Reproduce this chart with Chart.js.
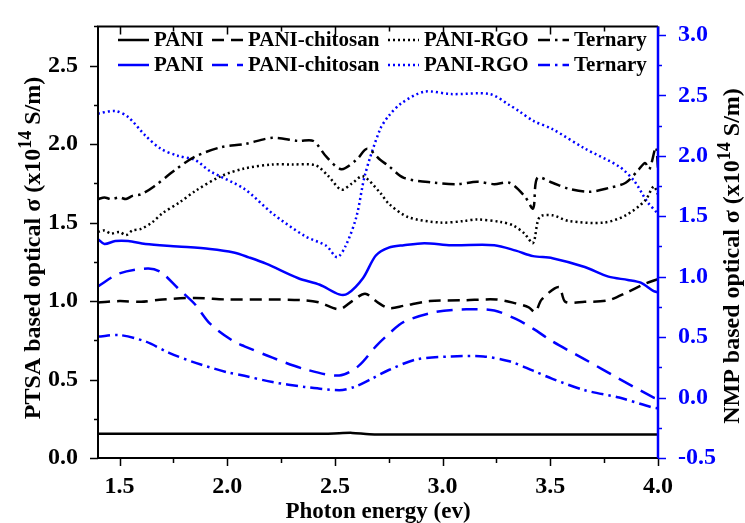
<!DOCTYPE html>
<html>
<head>
<meta charset="utf-8">
<script src="https://cdn.jsdelivr.net/npm/chart.js@4.4.1/dist/chart.umd.min.js"></script>
<style>
  html, body { margin: 0; padding: 0; background: #fff; }
  #wrap { width: 745px; height: 523px; }
</style>
</head>
<body>
<div id="wrap"><canvas id="chart" width="745" height="523"></canvas></div>
<script>
// ---- data (x = photon energy in eV) ----
const xTicks = [1.5, 2.0, 2.5, 3.0, 3.5, 4.0];
const leftTicks = [0.0, 0.5, 1.0, 1.5, 2.0, 2.5];
const rightTicks = [-0.5, 0.0, 0.5, 1.0, 1.5, 2.0, 2.5, 3.0];

// PTSA based (left axis, black)
const ptsaPaniX = [1.4, 2.45, 2.52, 2.58, 2.66, 2.8, 4.0];
const ptsaPaniY = [0.155, 0.155, 0.158, 0.16, 0.152, 0.15, 0.15];

const ptsaChitosanX = [1.4, 1.5, 1.6, 1.7, 1.85, 2.0, 2.2, 2.36, 2.43, 2.52, 2.58, 2.64, 2.7, 2.75, 2.82, 2.94, 3.1, 3.25, 3.34, 3.4, 3.43, 3.46, 3.54, 3.57, 3.66, 3.77, 3.86, 3.94, 4.0];
const ptsaChitosanY = [0.99, 1.0, 0.995, 1.01, 1.02, 1.01, 1.01, 1.005, 0.99, 0.948, 1.0, 1.047, 0.99, 0.955, 0.97, 1.0, 1.005, 1.01, 0.985, 0.96, 0.93, 1.01, 1.09, 0.995, 0.995, 1.005, 1.058, 1.11, 1.14];

const ptsaRgoX = [1.4, 1.43, 1.46, 1.5, 1.53, 1.56, 1.6, 1.65, 1.7, 1.78, 1.85, 1.97, 2.08, 2.21, 2.3, 2.41, 2.47, 2.53, 2.58, 2.63, 2.71, 2.75, 2.84, 2.99, 3.1, 3.16, 3.27, 3.33, 3.38, 3.42, 3.45, 3.51, 3.585, 3.75, 3.85, 3.94, 3.98, 4.0];
const ptsaRgoY = [1.44, 1.45, 1.43, 1.44, 1.42, 1.45, 1.46, 1.5, 1.56, 1.63, 1.7, 1.795, 1.845, 1.87, 1.87, 1.865, 1.795, 1.71, 1.75, 1.795, 1.69, 1.62, 1.535, 1.5, 1.51, 1.52, 1.504, 1.48, 1.43, 1.37, 1.535, 1.546, 1.51, 1.5, 1.546, 1.64, 1.73, 1.68];

const ptsaTernaryX = [1.4, 1.43, 1.46, 1.5, 1.53, 1.56, 1.6, 1.66, 1.76, 1.85, 1.97, 2.08, 2.21, 2.33, 2.4, 2.46, 2.53, 2.6, 2.65, 2.71, 2.75, 2.82, 2.96, 3.07, 3.16, 3.24, 3.31, 3.38, 3.42, 3.44, 3.51, 3.585, 3.68, 3.77, 3.85, 3.91, 3.94, 3.96, 3.99, 4.0];
const ptsaTernaryY = [1.65, 1.66, 1.65, 1.66, 1.65, 1.67, 1.68, 1.73, 1.837, 1.92, 1.98, 2.0, 2.04, 2.02, 2.02, 1.92, 1.84, 1.9, 1.97, 1.9, 1.86, 1.785, 1.754, 1.745, 1.76, 1.745, 1.754, 1.67, 1.59, 1.785, 1.754, 1.716, 1.696, 1.72, 1.754, 1.837, 1.88, 1.84, 1.98, 1.85];

// NMP based (right axis, blue)
const nmpPaniX = [1.4, 1.43, 1.48, 1.54, 1.62, 1.77, 1.92, 2.03, 2.1, 2.18, 2.33, 2.43, 2.52, 2.56, 2.63, 2.69, 2.75, 2.82, 2.915, 3.04, 3.24, 3.34, 3.42, 3.51, 3.66, 3.77, 3.86, 3.92, 3.98, 4.0];
const nmpPaniY = [1.31, 1.27, 1.295, 1.295, 1.27, 1.25, 1.229, 1.2, 1.16, 1.108, 0.987, 0.933, 0.853, 0.86, 0.987, 1.175, 1.24, 1.26, 1.277, 1.26, 1.26, 1.215, 1.17, 1.153, 1.08, 1.0, 0.973, 0.95, 0.88, 0.87];

const nmpChitosanX = [1.4, 1.5, 1.63, 1.69, 1.77, 1.85, 1.92, 2.03, 2.08, 2.21, 2.36, 2.52, 2.61, 2.69, 2.74, 2.82, 2.96, 3.11, 3.24, 3.34, 3.42, 3.51, 3.66, 3.82, 3.98, 4.0];
const nmpChitosanY = [0.92, 1.027, 1.068, 1.04, 0.906, 0.772, 0.611, 0.464, 0.424, 0.33, 0.235, 0.182, 0.262, 0.424, 0.51, 0.625, 0.705, 0.73, 0.72, 0.65, 0.57, 0.464, 0.316, 0.155, 0.0, -0.01];

const nmpRgoX = [1.4, 1.48, 1.54, 1.62, 1.69, 1.77, 1.85, 1.92, 2.08, 2.21, 2.36, 2.46, 2.51, 2.55, 2.6, 2.64, 2.71, 2.75, 2.81, 2.915, 3.04, 3.22, 3.31, 3.354, 3.42, 3.51, 3.66, 3.82, 3.89, 3.95, 4.0];
const nmpRgoY = [2.35, 2.37, 2.32, 2.167, 2.06, 2.0, 1.966, 1.873, 1.725, 1.523, 1.336, 1.255, 1.161, 1.255, 1.497, 1.845, 2.22, 2.33, 2.436, 2.53, 2.51, 2.51, 2.42, 2.37, 2.29, 2.22, 2.06, 1.91, 1.79, 1.62, 1.52];

const nmpTernaryX = [1.4, 1.5, 1.62, 1.73, 1.85, 2.0, 2.08, 2.21, 2.36, 2.52, 2.59, 2.67, 2.75, 2.88, 3.04, 3.19, 3.31, 3.42, 3.51, 3.66, 3.82, 3.97, 4.0];
const nmpTernaryY = [0.504, 0.517, 0.464, 0.37, 0.289, 0.209, 0.18, 0.128, 0.088, 0.061, 0.088, 0.155, 0.228, 0.316, 0.34, 0.34, 0.3, 0.222, 0.155, 0.061, 0.0, -0.08, -0.09];

const BLUE = '#0000ff';
const FONT = "'Liberation Serif', 'Times New Roman', serif";

function pts(xs, ys) {
  return xs.map((x, i) => ({ x: x, y: ys[i] }));
}

function series(label, xs, ys, color, dash, axis) {
  return {
    label: label,
    data: pts(xs, ys),
    borderColor: color,
    borderWidth: 2.5,
    borderDash: dash,
    pointRadius: 0,
    tension: 0.3,
    yAxisID: axis,
    fill: false
  };
}

const DASH = [12, 7];
const DASH_B = [16, 9];
const DOT = [2, 3];
const DASHDOT = [12, 5, 2.5, 5];

// legend: x of the sample line for each column
const legendCols = [118, 212, 388, 538];

// ---- tick marks, frame, titles, legend ----
const decorPlugin = {
  id: 'decor',
  afterDraw(chart) {
    const ctx = chart.ctx;
    const a = chart.chartArea;
    const sx = chart.scales.x, sl = chart.scales.yL, sr = chart.scales.yR;
    ctx.save();

    // frame
    ctx.lineWidth = 2;
    ctx.strokeStyle = '#000';
    ctx.beginPath();
    ctx.moveTo(a.right, a.top); ctx.lineTo(a.left, a.top);
    ctx.lineTo(a.left, a.bottom); ctx.lineTo(a.right, a.bottom);
    ctx.stroke();

    // x ticks (bottom outward, top inward)
    ctx.lineWidth = 1.5;
    for (let v = 1.5; v <= 4.0001; v += 0.25) {
      const px = Math.round(sx.getPixelForValue(v)) + 0.5;
      const major = Math.abs(v * 2 - Math.round(v * 2)) < 1e-6;
      const len = major ? 8 : 5;
      ctx.beginPath();
      ctx.moveTo(px, a.bottom); ctx.lineTo(px, a.bottom + len);
      ctx.moveTo(px, a.top); ctx.lineTo(px, a.top + len);
      ctx.stroke();
    }
    // left ticks
    for (let v = 0; v <= 2.7501; v += 0.25) {
      const py = Math.round(sl.getPixelForValue(v)) + 0.5;
      const major = Math.abs(v * 2 - Math.round(v * 2)) < 1e-6;
      ctx.beginPath();
      ctx.moveTo(a.left, py); ctx.lineTo(a.left - (major ? 8 : 4), py);
      ctx.stroke();
    }
    // right axis (blue)
    ctx.strokeStyle = BLUE;
    ctx.lineWidth = 2.5;
    ctx.beginPath();
    ctx.moveTo(a.right, a.top); ctx.lineTo(a.right, a.bottom);
    ctx.stroke();
    ctx.lineWidth = 1.5;
    for (let v = -0.5; v <= 3.0001; v += 0.25) {
      const py = Math.round(sr.getPixelForValue(v)) + 0.5;
      const major = Math.abs(v * 2 - Math.round(v * 2)) < 1e-6;
      ctx.beginPath();
      ctx.moveTo(a.right, py); ctx.lineTo(a.right + (major ? 8 : 4), py);
      ctx.stroke();
    }

    // axis titles
    ctx.fillStyle = '#000';
    ctx.textBaseline = 'alphabetic';
    ctx.font = 'bold 23px ' + FONT;
    ctx.textAlign = 'center';
    ctx.fillText('Photon energy (ev)', (a.left + a.right) / 2, 518);

    function vTitle(cx, cy, pre) {
      const parts = [
        { t: pre + ' based optical σ (x10', f: 'bold 24px ' + FONT, dy: 0 },
        { t: '14', f: 'bold 18px ' + FONT, dy: -9 },
        { t: ' S/m)', f: 'bold 24px ' + FONT, dy: 0 }
      ];
      let w = 0;
      parts.forEach(p => { ctx.font = p.f; p.w = ctx.measureText(p.t).width; w += p.w; });
      ctx.save();
      ctx.translate(cx, cy);
      ctx.rotate(-Math.PI / 2);
      ctx.textAlign = 'left';
      let x = -w / 2;
      parts.forEach(p => { ctx.font = p.f; ctx.fillText(p.t, x, 8 + p.dy); x += p.w; });
      ctx.restore();
    }
    vTitle(32, 248, 'PTSA');
    vTitle(731, 256, 'NMP');

    // legend
    ctx.font = 'bold 21px ' + FONT;
    ctx.textAlign = 'left';
    ctx.textBaseline = 'middle';
    chart.data.datasets.forEach((ds, i) => {
      const row = i < 4 ? 0 : 1;
      const col = i % 4;
      const y = row === 0 ? 40 : 65;
      const x0 = legendCols[col];
      ctx.strokeStyle = ds.borderColor;
      ctx.lineWidth = 2.5;
      ctx.setLineDash(ds.borderDash);
      ctx.beginPath();
      ctx.moveTo(x0, y); ctx.lineTo(x0 + 31, y);
      ctx.stroke();
      ctx.setLineDash([]);
      ctx.fillStyle = '#000';
      ctx.fillText(ds.label, x0 + 36, y + 1);
    });

    ctx.restore();
  }
};

const tickFont = { family: FONT, size: 24, weight: 'bold' };

new Chart(document.getElementById('chart'), {
  type: 'line',
  data: {
    datasets: [
      series('PANI', ptsaPaniX, ptsaPaniY, '#000', [], 'yL'),
      series('PANI-chitosan', ptsaChitosanX, ptsaChitosanY, '#000', DASH, 'yL'),
      series('PANI-RGO', ptsaRgoX, ptsaRgoY, '#000', DOT, 'yL'),
      series('Ternary', ptsaTernaryX, ptsaTernaryY, '#000', DASHDOT, 'yL'),
      series('PANI', nmpPaniX, nmpPaniY, BLUE, [], 'yR'),
      series('PANI-chitosan', nmpChitosanX, nmpChitosanY, BLUE, DASH_B, 'yR'),
      series('PANI-RGO', nmpRgoX, nmpRgoY, BLUE, DOT, 'yR'),
      series('Ternary', nmpTernaryX, nmpTernaryY, BLUE, DASHDOT, 'yR')
    ]
  },
  options: {
    responsive: false,
    animation: false,
    layout: { padding: { top: 15, left: 0, right: 0, bottom: 0 } },
    plugins: { legend: { display: false }, tooltip: { enabled: false } },
    scales: {
      x: {
        type: 'linear', position: 'bottom', min: 1.4, max: 4.0,
        grid: { display: false }, border: { display: false },
        afterBuildTicks: s => { s.ticks = xTicks.map(v => ({ value: v })); },
        afterFit: s => { s.height = 65; },
        ticks: { color: '#000', font: tickFont, padding: 6, maxRotation: 0,
                 callback: v => v.toFixed(1) }
      },
      yL: {
        type: 'linear', position: 'left', min: 0, max: 2.75,
        grid: { display: false }, border: { display: false },
        afterBuildTicks: s => { s.ticks = leftTicks.map(v => ({ value: v })); },
        afterFit: s => { s.width = 98; },
        ticks: { color: '#000', font: tickFont, padding: 12,
                 callback: v => v.toFixed(1) }
      },
      yR: {
        type: 'linear', position: 'right', min: -0.5, max: 3.07,
        grid: { display: false }, border: { display: false },
        afterBuildTicks: s => { s.ticks = rightTicks.map(v => ({ value: v })); },
        afterFit: s => { s.width = 87; },
        ticks: { color: BLUE, font: tickFont, padding: 12,
                 callback: v => v.toFixed(1) }
      }
    }
  },
  plugins: [decorPlugin]
});
</script>
</body>
</html>
